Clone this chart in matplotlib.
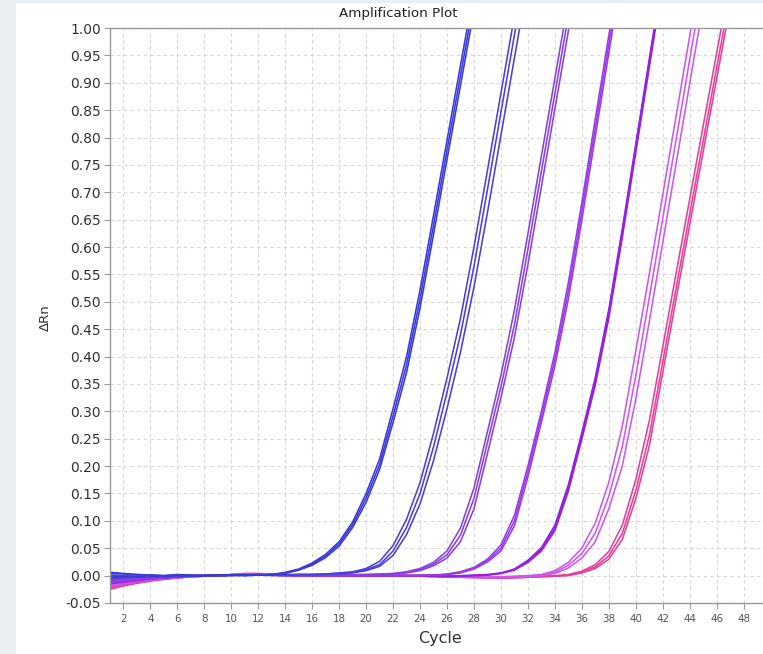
#!/usr/bin/env python3
"""Amplification plot (delta Rn vs cycle) for a 7-point dilution series in triplicate."""

import numpy as np
import matplotlib
matplotlib.use("Agg")
import matplotlib.pyplot as plt
from matplotlib.patches import Rectangle

plt.rcParams["font.family"] = ["DejaVu Sans"]

# delta Rn per cycle, starting at cycle 1, three replicates per dilution
g1 = [
    [0.006, 0.004, 0.002, 0.001, 0.000, 0.002, 0.001, 0.000, 0.000, 0.000, 0.001, 0.001, 0.002,
     0.006, 0.012, 0.023, 0.039, 0.062, 0.098, 0.150, 0.213, 0.305, 0.400, 0.522, 0.658, 0.795, 0.932, 1.068],
    [0.004, 0.003, 0.002, 0.001, 0.000, 0.001, 0.000, 0.000, 0.000, 0.001, 0.001, 0.001, 0.002,
     0.005, 0.011, 0.021, 0.036, 0.058, 0.093, 0.142, 0.203, 0.292, 0.385, 0.505, 0.640, 0.777, 0.913, 1.050],
    [-0.003, -0.002, -0.002, -0.001, -0.001, 0.000, 0.000, 0.000, 0.001, 0.001, 0.000, 0.001, 0.002,
     0.004, 0.010, 0.019, 0.033, 0.054, 0.088, 0.134, 0.194, 0.280, 0.371, 0.489, 0.623, 0.760, 0.895, 1.032],
]
g2 = [
    [0.001, 0.000, -0.001, -0.001, -0.001, 0.001, 0.000, 0.000, 0.001, 0.001, 0.000, 0.001, 0.001, 0.001,
     0.002, 0.002, 0.003, 0.005,
     0.007, 0.013, 0.026, 0.055, 0.103, 0.170, 0.260, 0.361, 0.470, 0.600, 0.740, 0.881, 1.022],
    [-0.002, -0.002, -0.001, -0.001, -0.002, 0.000, 0.000, 0.000, 0.001, 0.001, 0.001, 0.001, 0.001, 0.002,
     0.002, 0.002, 0.003, 0.004,
     0.006, 0.011, 0.020, 0.045, 0.088, 0.150, 0.235, 0.335, 0.440, 0.565, 0.705, 0.846, 0.987, 1.128],
    [-0.005, -0.004, -0.003, -0.002, -0.002, -0.001, 0.000, 0.000, 0.000, 0.001, 0.001, 0.001, 0.001, 0.001,
     0.002, 0.002, 0.002, 0.003,
     0.005, 0.009, 0.017, 0.037, 0.075, 0.131, 0.210, 0.305, 0.408, 0.527, 0.663, 0.804, 0.945, 1.086],
]
g3 = [
    [-0.004, -0.003, -0.003, -0.002, -0.002, -0.001, 0.000, 0.000, 0.000, 0.001, 0.001, 0.001, 0.001, 0.001,
     0.001, 0.001, 0.001, 0.002, 0.002, 0.002, 0.003, 0.004,
     0.007, 0.013, 0.024, 0.045, 0.087, 0.160, 0.263, 0.366, 0.485, 0.624, 0.766, 0.908, 1.050],
    [-0.006, -0.005, -0.004, -0.003, -0.002, -0.001, 0.000, 0.000, 0.000, 0.001, 0.001, 0.001, 0.001, 0.001,
     0.001, 0.001, 0.001, 0.001, 0.001, 0.002, 0.002, 0.003,
     0.006, 0.011, 0.021, 0.038, 0.074, 0.141, 0.243, 0.345, 0.458, 0.596, 0.738, 0.880, 1.022, 1.160],
    [-0.009, -0.007, -0.005, -0.004, -0.003, -0.002, -0.001, 0.000, 0.000, 0.001, 0.001, 0.001, 0.000, 0.000,
     0.001, 0.001, 0.001, 0.001, 0.001, 0.001, 0.002, 0.002,
     0.005, 0.009, 0.018, 0.032, 0.062, 0.122, 0.223, 0.325, 0.435, 0.568, 0.710, 0.852, 0.994, 1.136],
]
g4 = [
    [-0.008, -0.006, -0.005, -0.004, -0.003, -0.002, -0.001, 0.000, 0.000, 0.001, 0.001, 0.001, 0.001, 0.000,
     0.000, 0.000, 0.000, 0.000, 0.000, 0.000, 0.000, 0.000, 0.000, 0.001, 0.001,
     0.003, 0.007, 0.015, 0.030, 0.056, 0.110, 0.200, 0.300, 0.407, 0.535, 0.681, 0.834, 0.986, 1.136],
    [-0.010, -0.008, -0.006, -0.004, -0.003, -0.002, -0.001, 0.000, 0.000, 0.001, 0.001, 0.001, 0.001, 0.000,
     0.000, 0.000, 0.000, 0.000, 0.000, 0.000, 0.000, 0.000, 0.000, 0.000, 0.001,
     0.002, 0.006, 0.014, 0.027, 0.050, 0.100, 0.190, 0.290, 0.395, 0.520, 0.665, 0.818, 0.970, 1.120],
    [-0.013, -0.010, -0.007, -0.005, -0.004, -0.002, -0.001, -0.001, 0.000, 0.000, 0.001, 0.001, 0.001, 0.001,
     0.000, 0.000, 0.000, 0.000, 0.000, 0.000, 0.000, -0.001, 0.000, 0.000, 0.001,
     0.002, 0.005, 0.012, 0.025, 0.045, 0.091, 0.180, 0.280, 0.383, 0.505, 0.649, 0.802, 0.954, 1.104],
]
g5 = [
    [-0.011, -0.009, -0.007, -0.005, -0.004, -0.002, -0.001, 0.000, 0.000, 0.001, 0.001, 0.002, 0.001, 0.001,
     0.000, 0.000, 0.000, 0.000, 0.000, 0.000, 0.000, 0.000, 0.000, 0.000, 0.000, -0.001, 0.000, 0.001, 0.002,
     0.005, 0.012, 0.028, 0.051, 0.092, 0.166, 0.261, 0.362, 0.486, 0.633, 0.788, 0.943, 1.098],
    [-0.013, -0.010, -0.008, -0.006, -0.004, -0.002, -0.001, 0.000, 0.000, 0.001, 0.001, 0.002, 0.001, 0.001,
     0.000, 0.000, 0.000, 0.000, 0.000, 0.000, 0.000, 0.000, 0.000, 0.000, 0.000, -0.001, -0.001, 0.000, 0.001,
     0.004, 0.011, 0.026, 0.048, 0.087, 0.160, 0.255, 0.355, 0.478, 0.625, 0.780, 0.935, 1.090],
    [-0.015, -0.012, -0.009, -0.006, -0.004, -0.003, -0.001, -0.001, 0.000, 0.001, 0.002, 0.002, 0.001, 0.000,
     0.000, 0.000, 0.000, 0.000, 0.000, 0.000, 0.000, 0.000, 0.000, -0.001, -0.001, -0.002, -0.001, 0.000, 0.001,
     0.004, 0.010, 0.024, 0.045, 0.082, 0.154, 0.249, 0.348, 0.470, 0.617, 0.772, 0.927, 1.082],
]
g6 = [
    [-0.015, -0.012, -0.009, -0.007, -0.005, -0.003, -0.001, 0.000, 0.000, 0.001, 0.002, 0.002, 0.002, 0.001,
     0.000, 0.000, 0.000, 0.000, 0.000, 0.000, 0.000, 0.000, 0.000, -0.001, -0.001, -0.002, -0.002, -0.002,
     -0.003, -0.002, -0.001, 0.000,
     0.002, 0.009, 0.024, 0.050, 0.096, 0.170, 0.272, 0.410, 0.550, 0.695, 0.840, 0.985, 1.130],
    [-0.017, -0.013, -0.010, -0.007, -0.005, -0.003, -0.001, 0.000, 0.000, 0.001, 0.002, 0.002, 0.001, 0.001,
     0.000, 0.000, 0.000, 0.000, 0.000, 0.000, 0.000, 0.000, 0.000, -0.001, -0.001, -0.002, -0.002, -0.003,
     -0.003, -0.003, -0.002, -0.001,
     0.001, 0.006, 0.019, 0.040, 0.078, 0.145, 0.235, 0.365, 0.507, 0.652, 0.797, 0.942, 1.087],
    [-0.019, -0.015, -0.011, -0.008, -0.006, -0.004, -0.002, -0.001, 0.000, 0.001, 0.003, 0.003, 0.002, 0.001,
     0.000, 0.000, 0.000, 0.000, 0.000, 0.000, 0.000, 0.000, -0.001, -0.001, -0.002, -0.002, -0.003, -0.003,
     -0.004, -0.003, -0.003, -0.002,
     0.000, 0.004, 0.014, 0.032, 0.062, 0.122, 0.200, 0.322, 0.463, 0.608, 0.753, 0.898, 1.043],
]
g7 = [
    [-0.020, -0.016, -0.012, -0.009, -0.006, -0.004, -0.002, -0.001, 0.000, 0.002, 0.003, 0.003, 0.002, 0.001,
     0.000, 0.000, 0.000, 0.000, 0.000, 0.000, 0.000, 0.000, 0.000, -0.001, -0.001, -0.002, -0.002, -0.003,
     -0.003, -0.003, -0.003, -0.002, -0.001, 0.000,
     0.002, 0.008, 0.020, 0.044, 0.092, 0.175, 0.282, 0.417, 0.553, 0.687, 0.821, 0.954, 1.087],
    [-0.022, -0.017, -0.013, -0.009, -0.006, -0.004, -0.002, -0.001, 0.000, 0.002, 0.003, 0.003, 0.002, 0.001,
     0.000, 0.000, 0.000, 0.000, 0.000, 0.000, 0.000, 0.000, 0.000, -0.001, -0.001, -0.002, -0.003, -0.003,
     -0.004, -0.004, -0.004, -0.003, -0.002, -0.001,
     0.001, 0.006, 0.016, 0.036, 0.077, 0.155, 0.255, 0.390, 0.526, 0.660, 0.794, 0.927, 1.060],
    [-0.025, -0.019, -0.014, -0.010, -0.007, -0.004, -0.002, -0.001, 0.000, 0.002, 0.004, 0.004, 0.003, 0.001,
     0.000, 0.000, 0.000, 0.000, 0.000, 0.000, 0.000, 0.000, -0.001, -0.001, -0.002, -0.003, -0.003, -0.004,
     -0.004, -0.005, -0.004, -0.003, -0.002, -0.001,
     0.000, 0.005, 0.013, 0.030, 0.066, 0.140, 0.236, 0.370, 0.506, 0.640, 0.774, 0.907, 1.040],
]

groups = [g1, g2, g3, g4, g5, g6, g7]
group_colors = ["#3a3ad8", "#4c40d8", "#8a40e0", "#9a3ae6", "#9420e2", "#cc58ee", "#e2409a"]

x_ticks = list(range(2, 50, 2))
y_ticks = [round(0.05 * i - 0.05, 2) for i in range(22)]

W, H = 763, 654
fig = plt.figure(figsize=(W / 100, H / 100), dpi=100)
fig.patch.set_facecolor("#e9eef3")
# white panel, the grey strip shows on the left and top only
fig.patches.append(Rectangle((16 / W, 0), 1 - 16 / W, 1 - 3 / H,
                             transform=fig.transFigure, facecolor="white",
                             edgecolor="none", zorder=-5))

ax = fig.add_axes([110 / W, 51 / H, (W - 110) / W, 575 / H])
ax.set_zorder(2)
ax.set_facecolor("white")

for grp, color in zip(reversed(groups), reversed(group_colors)):
    for vals in grp:
        cyc = np.arange(1, len(vals) + 1)
        ax.plot(cyc, vals, color=color, linewidth=1.15, solid_joinstyle="round")

ax.set_xlim(1, 49.44)
ax.set_ylim(-0.05, 1.0)
ax.set_xticks(x_ticks)
ax.set_yticks(y_ticks)
ax.set_yticklabels([f"{v:.2f}" for v in y_ticks])

ax.grid(True, color="#d6d6d6", linestyle=(0, (3, 3)), linewidth=0.8)
ax.set_axisbelow(True)

for side in ["left", "bottom", "top"]:
    ax.spines[side].set_color("#999999")
    ax.spines[side].set_linewidth(1.0)
ax.spines["right"].set_visible(False)

ax.tick_params(axis="y", length=4, width=0.8, color="#999999", pad=2.5,
               labelsize=10, labelcolor="#333333")
ax.tick_params(axis="x", length=4, width=0.8, color="#999999", pad=4,
               labelsize=7.4, labelcolor="#555555")

fig.text(398 / W, 1 - 13 / H, "Amplification Plot", ha="center", va="center",
         fontsize=9.7, color="#222222")
fig.text(45 / W, 1 - 318 / H, "ΔRn", ha="center", va="center", rotation=90,
         fontsize=9.5, color="#333333")
fig.text(440 / W, 1 - 638 / H, "Cycle", ha="center", va="center",
         fontsize=11.5, color="#333333")

fig.savefig("out.png", dpi=100, facecolor=fig.get_facecolor())
